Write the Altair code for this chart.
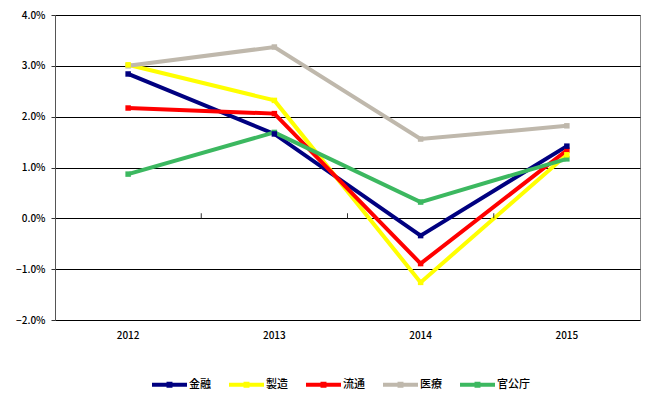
import altair as alt
import pandas as pd

years = ["2012", "2013", "2014", "2015"]
series = ["金融", "製造", "流通", "医療", "官公庁"]
colors = ["#000080", "#FFFF00", "#FF0000", "#BFB8AC", "#3CB860"]
kinyu = [2.84, 1.66, -0.34, 1.42]
seizo = [3.02, 2.32, -1.26, 1.25]
ryutsu = [2.17, 2.06, -0.89, 1.34]
iryo = [3.00, 3.37, 1.56, 1.82]
kankocho = [0.87, 1.69, 0.32, 1.17]

vals = [kinyu, seizo, ryutsu, iryo, kankocho]
rows = []
for s, v in zip(series, vals):
    for y, val in zip(years, v):
        rows.append({"year": y, "series": s, "value": val})
df = pd.DataFrame(rows)
tick_df = pd.DataFrame({"year": years[1:]})

font = "Noto Sans CJK JP"
legend_symbol = "M-1,-0.12H1V0.12H-1Z M-0.17,-0.17H0.17V0.17H-0.17Z"
xscale = alt.Scale(type="band", paddingInner=0, paddingOuter=0, domain=years)
yscale = alt.Scale(domain=[-2, 4], nice=False)

lines = alt.Chart(df).mark_line(
    strokeWidth=4,
    point=alt.OverlayMarkDef(shape="square", size=30, filled=True),
).encode(
    x=alt.X("year:N", title=None, scale=xscale,
            axis=alt.Axis(labelAngle=0, ticks=False, domain=False, labelPadding=10, bandPosition=0.5,
                          labelFont=font, labelFontSize=10, labelFontWeight=500, labelColor="#000")),
    y=alt.Y("value:Q", title=None, scale=yscale,
            axis=alt.Axis(values=[-2, -1, 0, 1, 2, 3, 4], labelExpr="format(datum.value, '.1f') + '%'",
                          gridColor="#000", gridWidth=1, ticks=True, tickSize=4, tickColor="#333",
                          domainColor="#555",
                          labelFont=font, labelFontSize=10, labelFontWeight=500, labelColor="#000",
                          labelPadding=6)),
    color=alt.Color("series:N", sort=series,
                    scale=alt.Scale(domain=series, range=colors),
                    legend=alt.Legend(title=None, orient="none", direction="horizontal",
                                      legendX=97, legendY=352,
                                      symbolType=legend_symbol, symbolSize=1225,
                                      symbolStrokeWidth=0, symbolOpacity=1,
                                      labelFont=font, labelFontSize=11, labelFontWeight=500,
                                      labelColor="#000", columnPadding=18, labelOffset=2)),
    order=alt.Order("series:N"),
)

ticks = alt.Chart(tick_df).mark_rule(color="#333", strokeWidth=1).encode(
    x=alt.X("year:N", scale=xscale, bandPosition=0, axis=None),
    y=alt.YDatum(0, axis=None),
    y2=alt.datum(0.1),
)

chart = alt.layer(lines, ticks).resolve_axis(x="independent", y="independent").properties(
    width=585, height=305,
    autosize=alt.AutoSizeParams(type="none"),
    padding={"left": 47, "top": 7, "right": 12, "bottom": 70},
).configure_view(
    stroke="#888", strokeWidth=1
)

chart.save("out.html", embed_options={"renderer": "svg", "actions": False})
